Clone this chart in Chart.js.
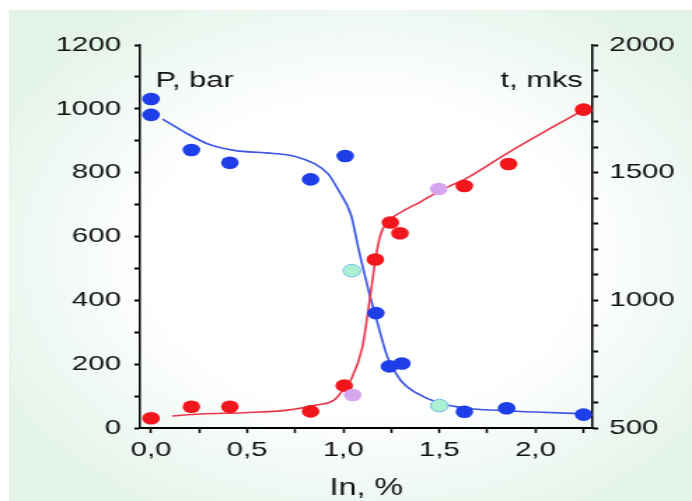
<!DOCTYPE html>
<html>
<head>
<meta charset="utf-8">
<script src="https://cdn.jsdelivr.net/npm/chart.js@4/dist/chart.umd.min.js"></script>
<style>
  html, body { margin: 0; padding: 0; width: 692px; height: 501px; overflow: hidden; background: #ffffff; }
  #bg { position: absolute; left: 9px; top: 10px; width: 683px; height: 491px;
        background: radial-gradient(ellipse 62% 62% at 52% 50%, #ffffff 50%, #e3f3e9 100%); }
  #wrap { position: absolute; left: 0; top: 0; width: 494px; height: 501px;
          transform: scaleX(1.4008); transform-origin: 0 0; }
</style>
</head>
<body>
<div id="bg"></div>
<div id="wrap"><canvas id="c" width="494" height="501"></canvas></div>
<script>
// ---- data ----
const blueX = [0, 0, 0.21, 0.41, 0.83, 1.01, 1.17, 1.24, 1.305, 1.63, 1.85, 2.25];
const blueP = [1031, 981, 871, 831, 779, 852, 360, 193, 202, 51, 62, 42];

const cyanX = [1.045, 1.50];
const cyanP = [493, 70];

const redX = [0, 0.21, 0.41, 0.83, 1.005, 1.167, 1.245, 1.295, 1.63, 1.86, 2.25];
const redT = [538, 583, 583, 565, 666, 1160, 1305, 1263, 1448, 1534, 1747];

const pinkX = [1.049, 1.497];
const pinkT = [629, 1436];

const blueFitX = [0.06, 0.18, 0.30, 0.44, 0.60, 0.75, 0.85, 0.92, 0.98, 1.04, 1.08, 1.14, 1.18, 1.23, 1.30, 1.38, 1.50, 1.64, 1.82, 2.00, 2.29];
const blueFitP = [968, 925, 889, 869, 862, 851, 828, 797, 740, 668, 560, 412, 325, 222, 148, 110, 78, 62, 55, 50, 44];

const redFitX = [0.11, 0.26, 0.48, 0.71, 0.86, 0.95, 1.00, 1.04, 1.10, 1.13, 1.15, 1.167, 1.193, 1.227, 1.30, 1.40, 1.50, 1.65, 1.85, 2.05, 2.25];
const redFitT = [547, 555, 560, 570, 590, 608, 650, 690, 818, 962, 1067, 1158, 1255, 1305, 1345, 1385, 1428, 1482, 1575, 1662, 1745];

const xTicks = [0, 0.25, 0.5, 0.75, 1.0, 1.25, 1.5, 1.75, 2.0, 2.25];
const xTickLabels = ['0,0', '', '0,5', '', '1,0', '', '1,5', '', '2,0', ''];
const leftTicks = [0, 100, 200, 300, 400, 500, 600, 700, 800, 900, 1000, 1100, 1200];
const leftTickLabels = ['0', '', '200', '', '400', '', '600', '', '800', '', '1000', '', '1200'];
const rightTicks = [500, 600, 700, 800, 900, 1000, 1100, 1200, 1300, 1400, 1500, 1600, 1700, 1800, 1900, 2000];
const rightTickLabels = ['500', '', '', '', '', '1000', '', '', '', '', '1500', '', '', '', '', '2000'];

const xTitle = 'In, %';
const leftName = 'P, bar';
const rightName = 't, mks';

// ---- drawing ----
const FONT = '"Liberation Sans", Arial, sans-serif';
const pts = (xs, ys) => xs.map((x, i) => ({ x: x, y: ys[i] }));

const nameplugin = {
  id: 'axisNames',
  afterDraw(chart) {
    const c = chart.ctx, a = chart.chartArea;
    c.save();
    c.font = '22px ' + FONT;
    c.fillStyle = '#111';
    c.textBaseline = 'alphabetic';
    c.textAlign = 'left';
    c.fillText(leftName, a.left + 11, 87);
    c.textAlign = 'right';
    c.fillText(rightName, a.right - 7, 87);
    c.restore();
  }
};

const tickFont = { family: FONT, size: 21, lineHeight: 1 };

new Chart(document.getElementById('c'), {
  type: 'scatter',
  data: {
    datasets: [
      { label: 'P fit', data: pts(blueFitX, blueFitP), yAxisID: 'yP', showLine: true, pointRadius: 0,
        borderColor: 'rgb(60,85,228)', borderWidth: 1.6, cubicInterpolationMode: 'monotone', order: 10 },
      { label: 't fit', data: pts(redFitX, redFitT), yAxisID: 'yT', showLine: true, pointRadius: 0,
        borderColor: 'rgb(232,55,75)', borderWidth: 1.6, cubicInterpolationMode: 'monotone', order: 9 },
      { label: 'P', data: pts(blueX, blueP), yAxisID: 'yP', pointRadius: 6.3, borderWidth: 0,
        backgroundColor: 'rgb(30,62,232)', order: 4 },
      { label: 't', data: pts(redX, redT), yAxisID: 'yT', pointRadius: 6.3, borderWidth: 0,
        backgroundColor: 'rgb(240,22,28)', order: 3 },
      { label: 'P extra', data: pts(cyanX, cyanP), yAxisID: 'yP', pointRadius: 6.3, borderWidth: 1,
        borderColor: 'rgb(120,190,235)', backgroundColor: 'rgb(172,240,212)', order: 2 },
      { label: 't extra', data: pts(pinkX, pinkT), yAxisID: 'yT', pointRadius: 6.3, borderWidth: 0,
        backgroundColor: 'rgb(214,165,238)', order: 1 }
    ]
  },
  options: {
    responsive: false,
    animation: false,
    devicePixelRatio: 1,
    layout: { padding: { left: 0, right: 0, top: 45, bottom: 0 } },
    plugins: { legend: { display: false }, tooltip: { enabled: false } },
    scales: {
      x: {
        type: 'linear', position: 'bottom', min: -0.057, max: 2.297,
        afterBuildTicks: s => { s.ticks = xTicks.map(v => ({ value: v })); },
        afterFit: s => { s.height = 73; },
        border: { display: true, color: '#000', width: 2 },
        grid: { display: true, drawOnChartArea: false, drawTicks: true, tickLength: 5, tickColor: '#000', tickWidth: 1.5 },
        ticks: { autoSkip: false, maxRotation: 0, minRotation: 0, padding: 7, color: '#111', font: tickFont,
                 callback: (v, i) => xTickLabels[i] },
        title: { display: true, text: xTitle, color: '#111', font: { family: FONT, size: 23, lineHeight: 1 },
                 padding: { top: 0, bottom: 1 } }
      },
      yP: {
        type: 'linear', position: 'left', min: 0, max: 1200,
        afterBuildTicks: s => { s.ticks = leftTicks.map(v => ({ value: v })); },
        afterFit: s => { s.width = 100; },
        border: { display: true, color: '#000', width: 1.5 },
        grid: { display: true, drawOnChartArea: false, drawTicks: true, tickLength: 4, tickColor: '#000', tickWidth: 2 },
        ticks: { autoSkip: false, padding: 9.6, color: '#111', font: tickFont,
                 callback: (v, i) => leftTickLabels[i] }
      },
      yT: {
        type: 'linear', position: 'right', min: 500, max: 2000,
        afterBuildTicks: s => { s.ticks = rightTicks.map(v => ({ value: v })); },
        afterFit: s => { s.width = 71; },
        border: { display: true, color: '#000', width: 1.5 },
        grid: { display: true, drawOnChartArea: false, drawTicks: true, tickLength: 4, tickColor: '#000', tickWidth: 2 },
        ticks: { autoSkip: false, padding: 8, color: '#111', font: tickFont,
                 callback: (v, i) => rightTickLabels[i] }
      }
    }
  },
  plugins: [nameplugin]
});
</script>
</body>
</html>
